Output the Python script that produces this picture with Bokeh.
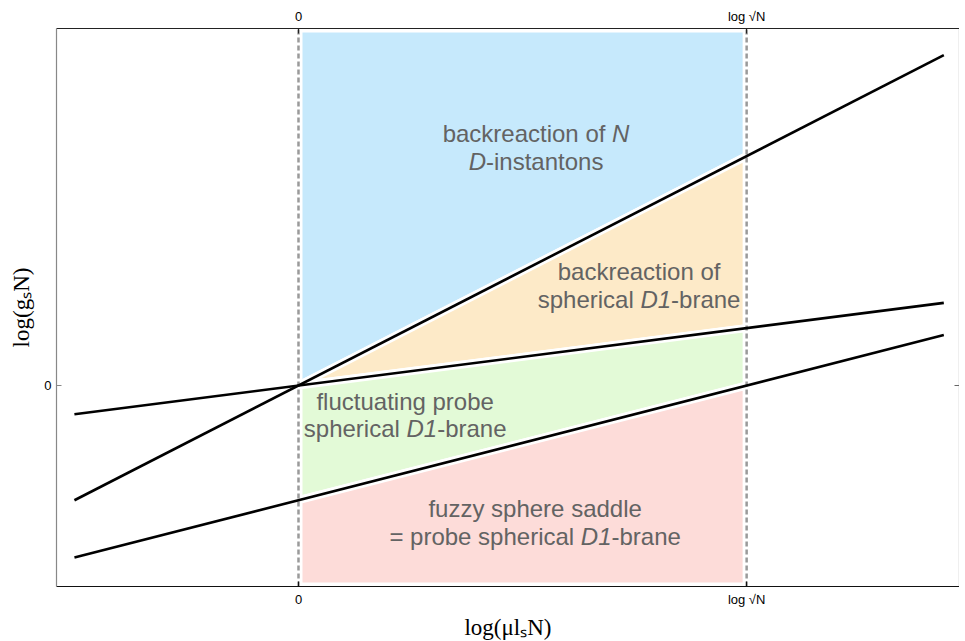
from bokeh.plotting import figure
from bokeh.models import Range1d, FixedTicker, LinearAxis, ColumnDataSource
from bokeh.embed import file_html
from bokeh.resources import INLINE
from bokeh.core.properties import value

# ---------------- data ----------------
# x axis: log(mu l_s N), 0 and log sqrt(N) (taken as 1 unit)
x_ticks = [0.0, 1.0]
x_tick_labels = ["0", "log √N"]
y_ticks = [0.0]
y_tick_labels = ["0"]

# black boundary lines
line_x = [-0.5, 1.44]
instanton_y = [-1.0, 2.88]   # D-instanton backreaction boundary
d1_y = [-0.25, 0.72]         # spherical D1-brane backreaction boundary
probe_y = [-1.5, 0.44]       # probe / fuzzy sphere boundary

# plot window
x_lo, x_hi = -0.54, 1.475
y_lo, y_hi = -1.752, 3.112

# coloured regions between x = 0 and x = log sqrt(N)
blue_x = [0.0, 1.0, 1.0, 0.0]
blue_y = [0.0, 2.0, y_hi, y_hi]
orange_x = [0.0, 1.0, 1.0]
orange_y = [0.0, 2.0, 0.5]
green_x = [0.0, 1.0, 1.0, 0.0]
green_y = [0.0, 0.5, 0.0, -1.0]
red_x = [0.0, 1.0, 1.0, 0.0]
red_y = [-1.0, 0.0, y_lo, y_lo]

region_colors = ["#c6e9fc", "#fdeac8", "#e3fad7", "#fddcd9"]

# region labels: (x, baseline y, [(piece, italic), ...])
region_labels = [
    (0.530, 2.195, [("backreaction of ", False), ("N", True)]),
    (0.530, 1.951, [("D", True), ("-instantons", False)]),
    (0.760, 0.992, [("backreaction of", False)]),
    (0.760, 0.748, [("spherical ", False), ("D1", True), ("-brane", False)]),
    (0.238, -0.142, [("fluctuating probe", False)]),
    (0.238, -0.377, [("spherical ", False), ("D1", True), ("-brane", False)]),
    (0.528, -1.075, [("fuzzy sphere saddle", False)]),
    (0.528, -1.319, [("= probe spherical ", False), ("D1", True), ("-brane", False)]),
]

# ---------------- helpers ----------------
FS = 24
_W = {' ': 278, 'a': 556, 'b': 556, 'c': 500, 'd': 556, 'e': 556, 'f': 278,
      'g': 556, 'h': 556, 'i': 222, 'k': 500, 'l': 222, 'n': 556, 'o': 556,
      'p': 556, 'r': 333, 's': 500, 't': 278, 'u': 556, 'y': 500, 'z': 500,
      'N': 722, 'D': 722, '1': 556, '-': 333, '=': 584}


def tw(s):
    return sum(_W.get(ch, 556) for ch in s) * FS / 1000.0


norm = dict(x=[], y=[], text=[], xo=[])
ital = dict(x=[], y=[], text=[], xo=[])
for (lx, ly, pieces) in region_labels:
    total = sum(tw(t) for t, _ in pieces)
    off = -total / 2.0
    for t, it in pieces:
        d = ital if it else norm
        d["x"].append(lx)
        d["y"].append(ly)
        d["text"].append(t.rstrip())
        d["xo"].append(off)
        off += tw(t)

# ---------------- figure ----------------
p = figure(frame_width=903, frame_height=558,
           x_range=Range1d(x_lo, x_hi), y_range=Range1d(y_lo, y_hi),
           output_backend="svg", toolbar_location=None,
           min_border_left=56, min_border_top=28, min_border_right=0,
           min_border_bottom=0)
p.background_fill_color = "white"
p.border_fill_color = "white"
p.outline_line_color = None
p.xgrid.visible = False
p.ygrid.visible = False

for xs, ys, c in [(blue_x, blue_y, region_colors[0]),
                  (orange_x, orange_y, region_colors[1]),
                  (green_x, green_y, region_colors[2]),
                  (red_x, red_y, region_colors[3])]:
    p.patch(xs, ys, fill_color=c, line_color="white", line_width=8,
            line_join="miter")

# dashed verticals at the tick positions
p.segment(x0=x_ticks, x1=x_ticks, y0=[y_lo] * 2, y1=[y_hi] * 2,
          line_color="#9a9a9a", line_width=2.5, line_dash="5 3")

for ys in (instanton_y, d1_y, probe_y):
    p.line(line_x, ys, line_color="black", line_width=2.6)

txt_kw = dict(text_align="left", text_baseline="alphabetic",
              text_font=value("Liberation Sans"), text_font_size=f"{FS}px",
              text_color="#636363")
p.text(x="x", y="y", text="text", x_offset="xo",
       source=ColumnDataSource(norm), **txt_kw)
p.text(x="x", y="y", text="text", x_offset="xo",
       source=ColumnDataSource(ital), text_font_style="italic", **txt_kw)

# ---------------- axes ----------------
xover = {int(t): lab for t, lab in zip(x_ticks, x_tick_labels)}
yover = {int(t): lab for t, lab in zip(y_ticks, y_tick_labels)}


def style(ax, color):
    ax.major_tick_in = 5
    ax.major_tick_out = 0
    ax.minor_tick_in = 0
    ax.minor_tick_out = 0
    ax.axis_line_color = color
    ax.major_tick_line_color = color
    ax.axis_line_width = 1.2
    ax.major_label_text_font = "Liberation Sans"
    ax.major_label_text_font_size = "13px"
    ax.major_label_text_color = "black"
    ax.major_label_standoff = 5


bottom = p.below[0]
bottom.ticker = FixedTicker(ticks=x_ticks)
bottom.major_label_overrides = xover
style(bottom, "#111111")
bottom.axis_label = "log(μlₛN)"
bottom.axis_label_text_font = "Liberation Serif"
bottom.axis_label_text_font_size = "23px"
bottom.axis_label_text_font_style = "normal"
bottom.axis_label_text_color = "black"
bottom.axis_label_standoff = 5

left = p.left[0]
left.ticker = FixedTicker(ticks=y_ticks)
left.major_label_overrides = yover
style(left, "#888888")
left.axis_label = "log(gₛN)"
left.axis_label_text_font = "Liberation Serif"
left.axis_label_text_font_size = "23px"
left.axis_label_text_font_style = "normal"
left.axis_label_text_color = "black"
left.axis_label_standoff = 7

top = LinearAxis(ticker=FixedTicker(ticks=x_ticks), major_label_overrides=xover)
style(top, "#222222")
p.add_layout(top, "above")

right = LinearAxis(ticker=FixedTicker(ticks=y_ticks), major_label_overrides={0: ""})
style(right, "#666666")
right.major_label_standoff = 0
p.add_layout(right, "right")

open("out.html", "w").write(file_html(p, INLINE))
